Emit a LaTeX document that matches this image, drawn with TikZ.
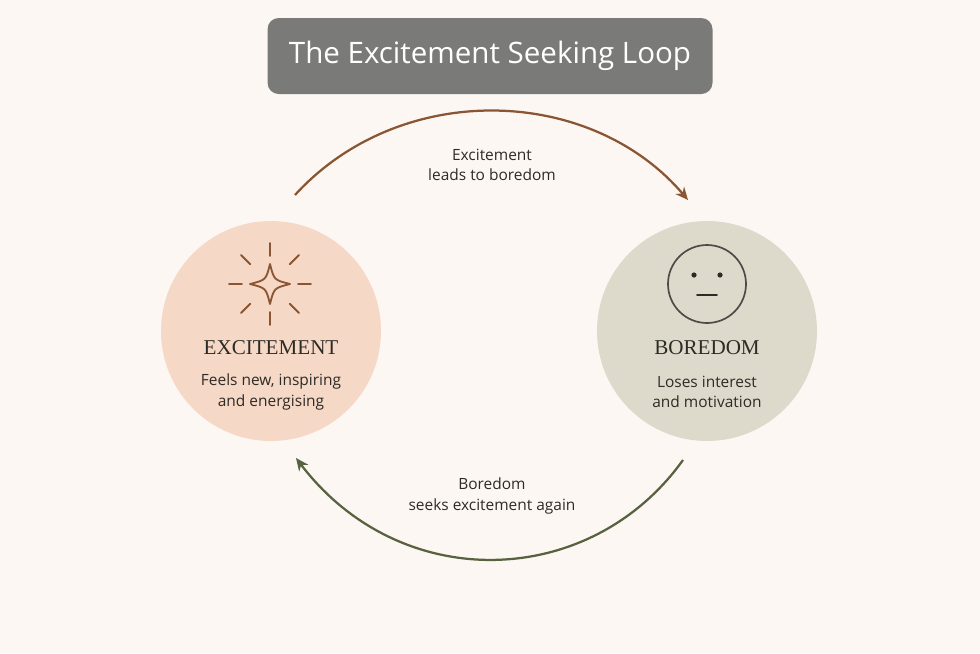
\documentclass[tikz,border=0pt]{standalone}
\usepackage{fontspec}
\setmainfont{Liberation Serif}
\setsansfont{Open Sans}
\usetikzlibrary{arrows.meta,positioning}
\definecolor{bgcream}{HTML}{FCF7F3}
\definecolor{peach}{HTML}{F5D8C6}
\definecolor{sage}{HTML}{DDDACC}
\definecolor{brownline}{HTML}{8A5533}
\definecolor{oliveline}{HTML}{596240}
\definecolor{titlegrey}{HTML}{7A7A78}
\definecolor{inkdark}{HTML}{2E2A26}
\tikzset{
    phase/.style={circle, minimum size=220\pxu, inner sep=0pt},
    heading/.style={font=\fontsize{15}{17}\selectfont, text=inkdark},
    blurb/.style={font=\sffamily\fontsize{11}{14.5}\selectfont, text=inkdark, align=center},
    loop arrow/.style={line width=1.6pt, -{Stealth[length=9pt,width=8pt]}},
}
\newlength{\pxu}\setlength{\pxu}{0.025cm}
\begin{document}
\begin{tikzpicture}[x=0.025cm,y=-0.025cm]
    \fill[bgcream] (0,0) rectangle (980,653);
    \useasboundingbox (0,0) rectangle (980,653);

    % title
    \node[fill=titlegrey, rounded corners=8pt, minimum width=445\pxu, minimum height=76\pxu,
          text=white, font=\sffamily\fontsize{21}{24}\selectfont] (title) at (490,56) {The Excitement Seeking Loop};

    % the two phases
    \node[phase, fill=peach] (excite) at (271,331) {};
    \node[phase, fill=sage] (bored) at (707,331) {};

    \node[heading] (exciteHead) at (271,348) {EXCITEMENT};
    \node[blurb] (exciteText) at (271,392) {Feels new, inspiring\\and energising};
    \node[heading] (boredHead) at (707,348) {BOREDOM};
    \node[blurb] (boredText) at (707,392) {Loses interest\\and motivation};

    % sparkle
    \coordinate (spark) at (270,284);
    \draw[brownline, line width=1.3pt, line join=round]
        (270,264) .. controls (274,280) .. (290,284) .. controls (274,288) .. (270,304)
        .. controls (266,288) .. (250,284) .. controls (266,280) .. cycle;
    \foreach \a in {0,45,...,315}
        \draw[brownline, line width=1.3pt, line cap=round] (spark) ++(\a:28) -- ++(\a:13);

    % face
    \node[circle, draw=inkdark!85, line width=1.2pt, minimum size=78\pxu] (face) at (707,284) {};
    \fill[inkdark] (694,275) circle (2.6);
    \fill[inkdark] (720,275) circle (2.6);
    \draw[inkdark, line width=1.3pt, line cap=round] (697,295) -- (717,295);

    % connectors
    \coordinate (topStart) at (295,195);
    \coordinate (topEnd) at (688,200);
    \coordinate (botStart) at (683,460);
    \coordinate (botEnd) at (296,458);
    \draw[loop arrow, brownline] (topStart) .. controls (400,80) and (590,85) .. (topEnd);
    \draw[loop arrow, oliveline] (botStart) .. controls (590,590) and (400,595) .. (botEnd);

    \node[blurb] (topLabel) at (492,165) {Excitement\\leads to boredom};
    \node[blurb] (botLabel) at (492,496) {Boredom\\seeks excitement again};
\end{tikzpicture}
\end{document}
